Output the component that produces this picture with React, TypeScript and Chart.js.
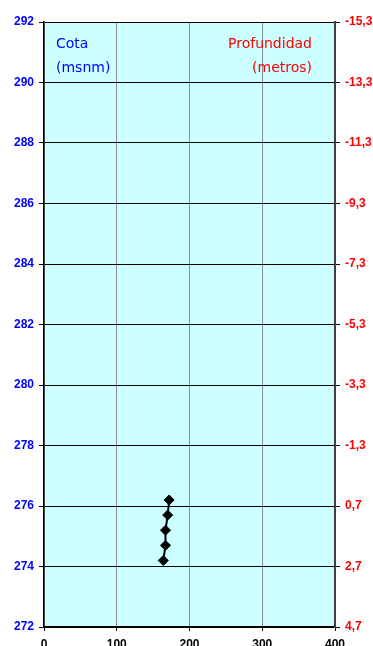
import React, { useEffect, useRef } from "react";
import { Chart, registerables } from "chart.js";

Chart.register(...registerables);

const cotas = [276.2, 275.7, 275.2, 274.7, 274.2];
const xValues = [172, 170, 167, 167, 164];
const cotaMin = 272;
const cotaMax = 292;
const xMin = 0;
const xMax = 400;
const depthRef = 276.7; // profundidad = depthRef - cota

const leftTitle = ["Cota", "(msnm)"];
const rightTitle = ["Profundidad", "(metros)"];

const bgPlugin = {
  id: "bgPlugin",
  beforeDraw(chart: any) {
    const { ctx, chartArea } = chart;
    ctx.save();
    ctx.fillStyle = "#ffffff";
    ctx.fillRect(0, 0, chart.width, chart.height);
    ctx.fillStyle = "#CCFFFF";
    ctx.fillRect(chartArea.left, chartArea.top, chartArea.right - chartArea.left, chartArea.bottom - chartArea.top);
    ctx.restore();
  },
  afterDraw(chart: any) {
    const { ctx, chartArea } = chart;
    ctx.save();
    ctx.font = '14px "DejaVu Sans"';
    ctx.textBaseline = "alphabetic";
    ctx.fillStyle = "#0000FF";
    ctx.textAlign = "left";
    ctx.fillText(leftTitle[0], chartArea.left + 12, chartArea.top + 26);
    ctx.fillText(leftTitle[1], chartArea.left + 12, chartArea.top + 50);
    ctx.fillStyle = "#FF0000";
    ctx.textAlign = "right";
    ctx.fillText(rightTitle[0], chartArea.right - 23, chartArea.top + 26);
    ctx.fillText(rightTitle[1], chartArea.right - 23, chartArea.top + 50);
    ctx.fillStyle = "#808080";
    ctx.textAlign = "center";
    ctx.fillText("(m)", 115, -2);
    ctx.restore();
  },
};

const tickFont = { family: '"Liberation Sans", Arial, sans-serif', size: 12, weight: "bold" as const };

export default function App() {
  const ref = useRef<HTMLCanvasElement>(null);
  useEffect(() => {
    const chart = new Chart(ref.current!, {
      type: "line",
      data: {
        datasets: [
          {
            data: xValues.map((x, i) => ({ x, y: cotas[i] })),
            borderColor: "#000000",
            backgroundColor: "#000000",
            borderWidth: 2,
            pointStyle: "rectRot",
            pointRadius: 5,
            pointBorderWidth: 1,
            showLine: true,
            yAxisID: "y",
          },
        ],
      },
      plugins: [bgPlugin],
      options: {
        animation: false,
        responsive: false,
        events: [],
        layout: { padding: { top: 22, left: 0, right: 0, bottom: 0 } },
        plugins: { legend: { display: false }, tooltip: { enabled: false }, title: { display: false } },
        scales: {
          x: {
            type: "linear",
            position: "bottom",
            min: xMin,
            max: xMax,
            ticks: { stepSize: 100, color: "#000000", font: tickFont, padding: 6 },
            grid: { color: "#8c8c8c", lineWidth: 1, tickColor: "#000000", tickLength: 4 },
            border: { color: "#000000", width: 1.5 },
            afterFit(scale: any) {
              scale.height = 19;
            },
          },
          y: {
            type: "linear",
            position: "left",
            min: cotaMin,
            max: cotaMax,
            ticks: { stepSize: 2, color: "#0000FF", font: tickFont, padding: 5 },
            grid: { color: "#000000", lineWidth: 1, tickColor: "#000000", tickLength: 5 },
            border: { color: "#000000", width: 1.5 },
            afterFit(scale: any) {
              scale.width = 44;
            },
          },
          y2: {
            type: "linear",
            position: "right",
            display: true,
            min: cotaMin,
            max: cotaMax,
            ticks: {
              stepSize: 2,
              color: "#FF0000",
              font: tickFont,
              padding: 5,
              callback: (v: any) => (depthRef - Number(v)).toFixed(1).replace(".", ","),
            },
            grid: { drawOnChartArea: false, tickColor: "#000000", tickLength: 5 },
            border: { color: "#404040", width: 2 },
            afterFit(scale: any) {
              scale.width = 38;
            },
          },
        },
      },
    });
    return () => chart.destroy();
  }, []);
  return (
    <div style={{ position: "absolute", left: 0, top: 0, width: 373, height: 646, background: "#fff" }}>
      <canvas ref={ref} width={373} height={646} style={{ display: "block" }} />
    </div>
  );
}
